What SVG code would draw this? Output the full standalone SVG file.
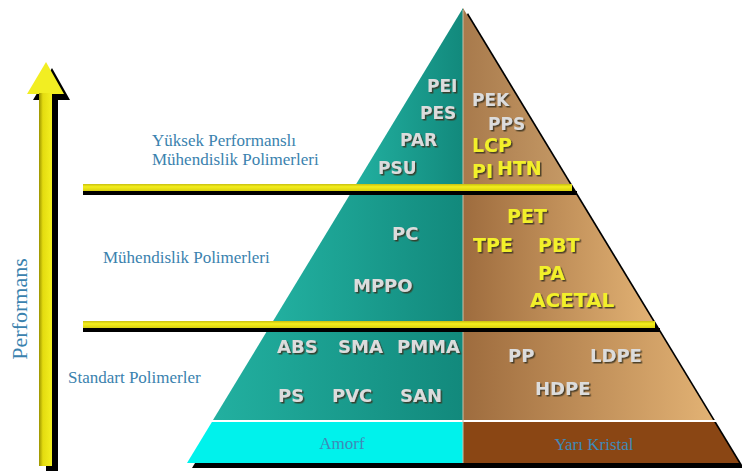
<svg xmlns="http://www.w3.org/2000/svg" width="742" height="471" viewBox="0 0 742 471">
<style>
.lbl{font-family:"Liberation Serif","Times New Roman",serif;font-size:17px;fill:#3a82ae}
.gr{font-family:"DejaVu Sans",Verdana,sans-serif;font-weight:bold;font-size:18px;fill:#dcdcdc;filter:url(#sh)}
.ye{font-family:"DejaVu Sans",Verdana,sans-serif;font-weight:bold;font-size:19px;fill:#f2f02a;filter:url(#sh)}
.sm{font-size:17px}
.band{font-family:"Liberation Serif","Times New Roman",serif;font-size:17px;fill:#3f8ab8}
</style>
<defs>
<filter id="sh" x="-10%" y="-20%" width="130%" height="150%">
<feDropShadow dx="1.5" dy="1.5" stdDeviation="0.4" flood-color="#3a3020" flood-opacity="0.85"/>
</filter>
<linearGradient id="teal" x1="0" y1="0" x2="1" y2="0">
<stop offset="0" stop-color="#22b0a0"/>
<stop offset="1" stop-color="#12897c"/>
</linearGradient>
<linearGradient id="brown" x1="0" y1="0" x2="1" y2="0">
<stop offset="0" stop-color="#9e6c3e"/>
<stop offset="1" stop-color="#e2b274"/>
</linearGradient>
<linearGradient id="brownTop" x1="0" y1="0" x2="1" y2="0">
<stop offset="0" stop-color="#a87a4c"/>
<stop offset="1" stop-color="#c69a66"/>
</linearGradient>
<linearGradient id="yel" x1="0" y1="0" x2="0" y2="1">
<stop offset="0" stop-color="#c8c010"/>
<stop offset="0.4" stop-color="#f4ee1c"/>
<stop offset="1" stop-color="#d8d010"/>
</linearGradient>
<linearGradient id="shaft" x1="39" y1="0" x2="52" y2="0" gradientUnits="userSpaceOnUse">
<stop offset="0" stop-color="#9a9200"/>
<stop offset="0.3" stop-color="#e4dc10"/>
<stop offset="1" stop-color="#f4f020"/>
</linearGradient>
</defs>

<g id="arrow">
<polygon points="52,68 70,100 58,100 58,472 46,472 46,100 33,100" fill="#000"/>
<polygon points="46,62 64,94 27,94" fill="#f2ee22"/>
<rect x="39" y="93" width="13" height="373" fill="url(#shaft)"/>
</g>
<text id="performans" class="lbl" transform="translate(27,309) rotate(-90)" text-anchor="middle" style="font-size:22px">Performans</text>

<g id="pyramid">
<polygon points="468,13 744,468 192,468" fill="#000"/>
<polygon id="top-left" points="463,8 463,185 355.6,185" fill="url(#teal)"/>
<polygon id="top-right" points="463,8 570.4,185 463,185" fill="url(#brownTop)"/>
<polygon points="349.6,195 463,195 463,322 272.5,322" fill="url(#teal)"/>
<polygon points="463,195 576.4,195 653.5,322 463,322" fill="url(#brown)"/>
<polygon points="267,331 463,331 463,420 213,420" fill="url(#teal)"/>
<polygon points="463,331 659,331 713,420 463,420" fill="url(#brown)"/>
<rect x="205" y="420" width="515" height="2" fill="#ffffff"/>
<polygon id="amorf" points="211.9,422 463,422 463,463 187,463" fill="#00f2ec"/>
<polygon id="yari-kristal" points="463,422 714.1,422 739,463 463,463" fill="#8a4614"/>
<line x1="463" y1="10" x2="463" y2="463" stroke="#c8c0a8" stroke-width="1"/>
</g>

<g id="connectors">
<rect x="83" y="191" width="494" height="4" fill="#000"/>
<rect x="83" y="184" width="489" height="7" fill="url(#yel)"/>
<rect x="83" y="328" width="577" height="4" fill="#000"/>
<rect x="83" y="321" width="572" height="7" fill="url(#yel)"/>
</g>

<g id="high-performance">
<text class="lbl" x="152" y="146">Yüksek Performanslı</text>
<text class="lbl" x="152" y="165">Mühendislik Polimerleri</text>
<text class="gr sm" x="427" y="92">PEI</text>
<text class="gr sm" x="420" y="119">PES</text>
<text class="gr sm" x="400" y="146">PAR</text>
<text class="gr sm" x="378" y="174">PSU</text>
<text class="gr sm" x="472" y="106">PEK</text>
<text class="gr sm" x="488" y="130">PPS</text>
<text class="ye" x="472" y="152">LCP</text>
<text class="ye" x="472" y="178">PI</text>
<text class="ye" x="497" y="175">HTN</text>
</g>

<g id="engineering">
<text class="lbl" x="103" y="263">Mühendislik Polimerleri</text>
<text class="gr" x="392" y="240">PC</text>
<text class="gr" x="353" y="292">MPPO</text>
<text class="ye" x="507" y="223">PET</text>
<text class="ye" x="473" y="252">TPE</text>
<text class="ye" x="538" y="252">PBT</text>
<text class="ye" x="538" y="280">PA</text>
<text class="ye" x="530" y="307" style="font-size:20px">ACETAL</text>
</g>

<g id="standard">
<text class="lbl" x="68" y="383">Standart Polimerler</text>
<text class="gr" x="277" y="353">ABS</text>
<text class="gr" x="338" y="353">SMA</text>
<text class="gr" x="397" y="353">PMMA</text>
<text class="gr" x="278" y="402">PS</text>
<text class="gr" x="332" y="402">PVC</text>
<text class="gr" x="400" y="402">SAN</text>
<text class="gr" x="508" y="362">PP</text>
<text class="gr" x="590" y="362">LDPE</text>
<text class="gr" x="535" y="395">HDPE</text>
</g>

<g id="base">
<text class="band" x="342" y="449" text-anchor="middle">Amorf</text>
<text class="band" x="594" y="450" text-anchor="middle">Yarı Kristal</text>
</g>
</svg>
